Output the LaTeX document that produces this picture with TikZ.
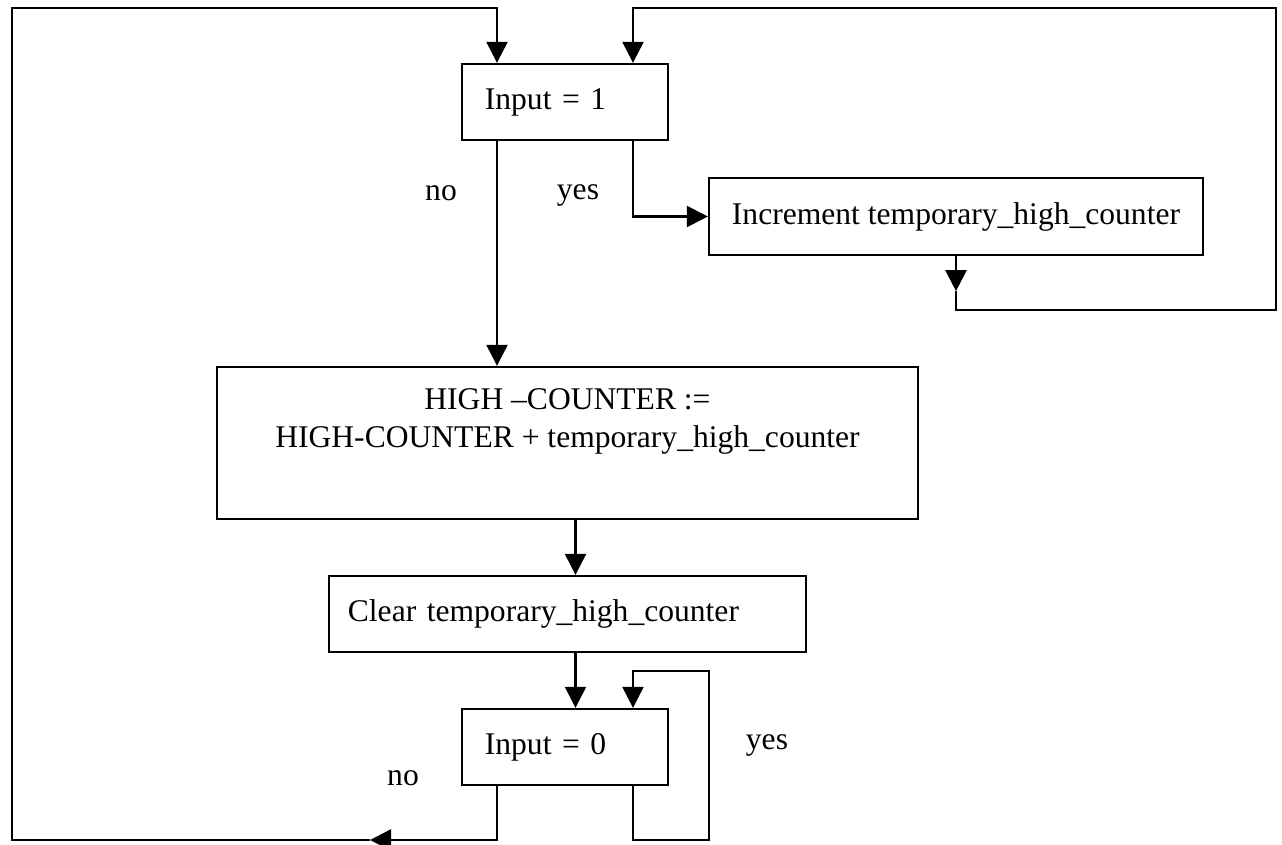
\documentclass[tikz,border=0pt]{standalone}
\usepackage{fontspec}
\setmainfont{Liberation Serif}
\usetikzlibrary{arrows.meta,calc,positioning}

\begin{document}
\begin{tikzpicture}[x=0.38pt,y=-0.38pt,
    >={Triangle[length=8pt,width=8pt]},
    line width=0.85pt,
    every node/.style={font=\fontsize{12}{14.5}\selectfont},
    box/.style={draw,rectangle,inner ysep=0pt},
    lbl/.style={inner sep=0pt}]
  \useasboundingbox (0,0) rectangle (1282,845);
  % Boxes
  \node[box,minimum width=78.3pt,minimum height=28.9pt,text width=60.9pt,inner xsep=8.7pt,align=left] (in1) at (565,102) {Input = 1};
  \node[box,minimum width=187.7pt,minimum height=29.3pt] (inc) at (956,216.5) {Increment temporary\_high\_counter};
  \node[box,minimum width=266.4pt,minimum height=57.8pt,align=center] (hc) at (567.5,443) {HIGH --COUNTER :=\\HIGH-COUNTER + temporary\_high\_counter\\ \strut};
  \node[box,minimum width=181.3pt,minimum height=28.9pt,text width=166.9pt,inner xsep=7.2pt,align=left] (clr) at (567.5,614) {Clear temporary\_high\_counter};
  \node[box,minimum width=78.3pt,minimum height=28.9pt,text width=60.9pt,inner xsep=8.7pt,align=left] (in0) at (565,747) {Input = 0};
  % Labels
  \node[lbl] (no1) at (441,193) {no};
  \node[lbl] (yes1) at (578,195) {yes};
  \node[lbl] (yes0) at (767,745) {yes};
  \node[lbl] (no0) at (403,778) {no};
  % Corners and ports
  \coordinate (tl) at (12,8);
  \coordinate (tr) at (1276,8);
  \coordinate (br) at (1276,310);
  \coordinate (bl) at (12,840);
  \coordinate (loop0) at (709,671);
  \coordinate (noarr) at (370,840);
  \coordinate (in1inA) at ($(in1.north)+(-68,0)$);
  \coordinate (in1inB) at ($(in1.north)+(68,0)$);
  \coordinate (in1no) at ($(in1.south)+(-68,0)$);
  \coordinate (in1yes) at ($(in1.south)+(68,0)$);
  \coordinate (in0inB) at ($(in0.north)+(68,0)$);
  \coordinate (in0no) at ($(in0.south)+(-68,0)$);
  \coordinate (in0yes) at ($(in0.south)+(68,0)$);
  \coordinate (hcout) at ($(hc.south)+(8,0)$);
  \coordinate (clrout) at ($(clr.south)+(8,0)$);
  \coordinate (incarr) at ($(inc.south)+(0,35)$);
  % Connectors
  \draw[->] (in1no) -- (in1no |- hc.north);
  \draw[->] (in1yes) |- (inc.west);
  \draw[->] (hcout) -- (hcout |- clr.north);
  \draw[->] (clrout) -- (clrout |- in0.north);
  \draw[->] (inc.south) -- (incarr);
  \draw[->] (incarr) |- (br) -- (tr) -| (in1inB);
  \draw[->] (in0yes) -- (in0yes |- bl) -| (loop0) -| (in0inB);
  \draw[->] (in0no) |- (noarr);
  \draw[->] (noarr) -| (tl) -| (in1inA);
\end{tikzpicture}
\end{document}
